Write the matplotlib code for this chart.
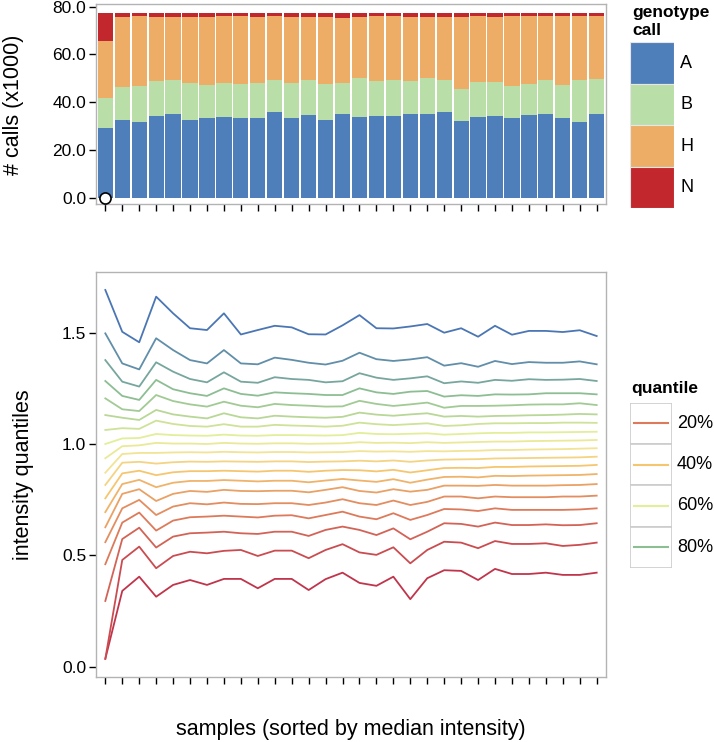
import numpy as np
import matplotlib
matplotlib.use("Agg")
import matplotlib.pyplot as plt
from matplotlib.colors import LinearSegmentedColormap
from matplotlib.patches import Rectangle
from matplotlib.lines import Line2D

plt.rcParams['font.family'] = ['Liberation Sans', 'DejaVu Sans']

# ---------------- data ----------------
genotypes = ["A", "B", "H", "N"]
geno_colors = ["#4F7FBA", "#B9DEA7", "#EDAD66", "#C1272D"]

calls_A = [29.3, 32.5, 31.6, 34.2, 35.0, 32.7, 33.5, 33.8, 33.2, 33.5, 35.9, 33.4, 34.8, 32.7, 35.0,
           33.9, 34.3, 34.3, 35.2, 34.9, 35.8, 32.3, 33.9, 34.2, 33.5, 34.5, 35.2, 33.2, 31.7, 35.2]
calls_B = [12.5, 13.9, 15.3, 14.7, 14.4, 15.5, 13.7, 14.2, 14.3, 14.4, 13.3, 14.8, 14.5, 15.0, 13.0,
           16.1, 14.6, 15.0, 13.5, 15.4, 13.5, 13.2, 14.7, 14.3, 13.3, 13.1, 14.0, 14.1, 17.7, 14.5]
calls_H = [24.0, 29.4, 29.2, 26.7, 26.4, 27.6, 28.4, 28.1, 28.6, 27.7, 26.9, 27.6, 26.5, 28.1, 27.4,
           25.8, 27.2, 26.8, 26.9, 25.5, 26.5, 30.1, 27.5, 27.1, 29.4, 28.6, 27.0, 28.8, 26.7, 26.5]
calls_N = [11.7, 1.7, 1.4, 1.9, 1.7, 1.7, 1.9, 1.4, 1.4, 1.9, 1.4, 1.7, 1.7, 1.7, 2.1,
           1.7, 1.4, 1.4, 1.9, 1.7, 1.7, 1.9, 1.4, 1.9, 1.3, 1.3, 1.3, 1.4, 1.4, 1.3]

quantile_levels = [0.05, 0.10, 0.15, 0.20, 0.25, 0.30, 0.35, 0.40, 0.45, 0.50,
                   0.55, 0.60, 0.65, 0.70, 0.75, 0.80, 0.85, 0.90, 0.95]

q05 = [0.035, 0.340, 0.404, 0.314, 0.367, 0.389, 0.367, 0.394, 0.394, 0.352, 0.394, 0.394, 0.344, 0.393, 0.422,
       0.376, 0.363, 0.404, 0.303, 0.397, 0.433, 0.430, 0.389, 0.439, 0.416, 0.416, 0.422, 0.412, 0.412, 0.422]
q10 = [0.035, 0.479, 0.539, 0.442, 0.497, 0.516, 0.509, 0.520, 0.524, 0.497, 0.521, 0.521, 0.487, 0.524, 0.550,
       0.513, 0.502, 0.536, 0.464, 0.524, 0.561, 0.557, 0.532, 0.564, 0.551, 0.551, 0.554, 0.542, 0.547, 0.557]
q15 = [0.295, 0.573, 0.624, 0.535, 0.584, 0.599, 0.602, 0.606, 0.599, 0.596, 0.606, 0.606, 0.587, 0.614, 0.629,
       0.614, 0.591, 0.621, 0.572, 0.606, 0.644, 0.641, 0.629, 0.647, 0.636, 0.636, 0.639, 0.635, 0.636, 0.644]
q20 = [0.460, 0.647, 0.692, 0.611, 0.656, 0.671, 0.674, 0.678, 0.674, 0.670, 0.678, 0.680, 0.666, 0.681, 0.696,
       0.674, 0.662, 0.689, 0.659, 0.681, 0.708, 0.706, 0.699, 0.711, 0.704, 0.704, 0.704, 0.704, 0.706, 0.711]
q25 = [0.559, 0.711, 0.749, 0.681, 0.719, 0.734, 0.729, 0.737, 0.731, 0.730, 0.734, 0.734, 0.726, 0.737, 0.752,
       0.734, 0.726, 0.746, 0.726, 0.740, 0.764, 0.764, 0.756, 0.764, 0.761, 0.761, 0.761, 0.764, 0.764, 0.768]
q30 = [0.626, 0.776, 0.797, 0.744, 0.776, 0.789, 0.785, 0.794, 0.789, 0.788, 0.790, 0.790, 0.783, 0.794, 0.806,
       0.789, 0.782, 0.797, 0.786, 0.794, 0.813, 0.813, 0.812, 0.816, 0.813, 0.813, 0.813, 0.815, 0.816, 0.820]
q35 = [0.694, 0.820, 0.839, 0.806, 0.826, 0.834, 0.834, 0.838, 0.835, 0.832, 0.835, 0.835, 0.828, 0.836, 0.843,
       0.836, 0.830, 0.842, 0.826, 0.840, 0.852, 0.853, 0.850, 0.857, 0.856, 0.858, 0.859, 0.860, 0.861, 0.865]
q40 = [0.756, 0.868, 0.880, 0.860, 0.873, 0.878, 0.878, 0.880, 0.878, 0.876, 0.880, 0.880, 0.875, 0.880, 0.883,
       0.882, 0.877, 0.884, 0.872, 0.882, 0.892, 0.893, 0.892, 0.897, 0.897, 0.899, 0.900, 0.901, 0.902, 0.906]
q45 = [0.816, 0.916, 0.920, 0.912, 0.918, 0.921, 0.920, 0.922, 0.921, 0.920, 0.922, 0.922, 0.919, 0.921, 0.922,
       0.925, 0.922, 0.926, 0.920, 0.926, 0.930, 0.931, 0.932, 0.935, 0.936, 0.937, 0.938, 0.939, 0.940, 0.943]
q50 = [0.871, 0.955, 0.960, 0.960, 0.962, 0.963, 0.962, 0.965, 0.963, 0.962, 0.964, 0.964, 0.962, 0.963, 0.964,
       0.968, 0.966, 0.967, 0.965, 0.968, 0.967, 0.969, 0.970, 0.973, 0.973, 0.975, 0.976, 0.977, 0.979, 0.981]
q55 = [0.936, 0.990, 0.994, 1.005, 1.002, 1.002, 1.000, 1.005, 1.002, 1.001, 1.003, 1.003, 1.001, 1.002, 1.003,
       1.008, 1.005, 1.006, 1.004, 1.008, 1.005, 1.007, 1.009, 1.011, 1.011, 1.013, 1.014, 1.015, 1.016, 1.018]
q60 = [1.000, 1.025, 1.027, 1.045, 1.040, 1.038, 1.037, 1.042, 1.038, 1.037, 1.040, 1.040, 1.039, 1.038, 1.040,
       1.050, 1.045, 1.044, 1.046, 1.048, 1.042, 1.045, 1.048, 1.050, 1.050, 1.052, 1.052, 1.053, 1.054, 1.055]
q65 = [1.063, 1.071, 1.068, 1.105, 1.090, 1.081, 1.078, 1.089, 1.078, 1.078, 1.086, 1.083, 1.081, 1.078, 1.082,
       1.096, 1.089, 1.085, 1.089, 1.093, 1.081, 1.084, 1.090, 1.093, 1.093, 1.094, 1.094, 1.096, 1.096, 1.095]
q70 = [1.130, 1.118, 1.108, 1.153, 1.133, 1.123, 1.115, 1.138, 1.120, 1.115, 1.127, 1.123, 1.120, 1.118, 1.122,
       1.141, 1.132, 1.127, 1.133, 1.138, 1.123, 1.126, 1.123, 1.126, 1.127, 1.129, 1.130, 1.132, 1.135, 1.133]
q75 = [1.205, 1.156, 1.148, 1.220, 1.193, 1.178, 1.168, 1.190, 1.172, 1.165, 1.180, 1.175, 1.172, 1.168, 1.169,
       1.194, 1.180, 1.171, 1.178, 1.186, 1.163, 1.171, 1.171, 1.172, 1.174, 1.177, 1.178, 1.178, 1.183, 1.175]
q80 = [1.283, 1.216, 1.198, 1.288, 1.246, 1.228, 1.216, 1.250, 1.225, 1.217, 1.232, 1.228, 1.225, 1.220, 1.220,
       1.250, 1.232, 1.225, 1.235, 1.238, 1.213, 1.219, 1.216, 1.223, 1.222, 1.223, 1.228, 1.228, 1.228, 1.223]
q85 = [1.377, 1.280, 1.258, 1.367, 1.325, 1.292, 1.277, 1.322, 1.280, 1.275, 1.300, 1.292, 1.288, 1.277, 1.282,
       1.318, 1.298, 1.288, 1.295, 1.304, 1.273, 1.281, 1.275, 1.288, 1.284, 1.291, 1.288, 1.289, 1.292, 1.283]
q90 = [1.497, 1.362, 1.335, 1.475, 1.422, 1.377, 1.362, 1.422, 1.362, 1.358, 1.388, 1.378, 1.365, 1.357, 1.374,
       1.410, 1.381, 1.373, 1.380, 1.390, 1.352, 1.363, 1.347, 1.373, 1.359, 1.368, 1.365, 1.365, 1.371, 1.358]
q95 = [1.692, 1.504, 1.457, 1.662, 1.587, 1.520, 1.512, 1.587, 1.492, 1.512, 1.531, 1.524, 1.493, 1.492, 1.533,
       1.579, 1.520, 1.519, 1.528, 1.539, 1.500, 1.520, 1.482, 1.531, 1.491, 1.508, 1.508, 1.503, 1.511, 1.485]

quantile_series = [q05, q10, q15, q20, q25, q30, q35, q40, q45, q50,
                   q55, q60, q65, q70, q75, q80, q85, q90, q95]

legend_quantiles = [0.20, 0.40, 0.60, 0.80]
legend_labels = ["20%", "40%", "60%", "80%"]

calls_ticks = [0, 20, 40, 60, 80]
int_ticks = [0.0, 0.5, 1.0, 1.5]

# ---------------- layout helpers ----------------
W, H = 714, 742
fig = plt.figure(figsize=(W / 100, H / 100), dpi=100)


def box(x0, y0, x1, y1):
    return [x0 / W, 1 - y1 / H, (x1 - x0) / W, (y1 - y0) / H]


border = "#B3B3B3"
tick_fs = 12.5
title_fs = 15.5

cmap = LinearSegmentedColormap.from_list(
    "q", [(0.0, "#C0354B"), (0.167, "#DD7B5B"), (0.389, "#F6C66F"),
          (0.5, "#F2E395"), (0.611, "#E3EE9A"), (0.833, "#8EBF93"), (1.0, "#4B76B4")])


def qcol(q):
    return cmap((q - 0.05) / 0.90)


def style(ax):
    for s in ax.spines.values():
        s.set_color(border)
        s.set_linewidth(1.0)
    ax.tick_params(direction="out", length=5, width=1.0, color="black",
                   labelsize=tick_fs, labelcolor="black", pad=2)


n = len(calls_A)
x = np.arange(n)

# ---------------- top panel ----------------
ax1 = fig.add_axes(box(96, 4, 606, 204))
bottom = np.zeros(n)
for vals, col in zip([calls_A, calls_B, calls_H, calls_N], geno_colors):
    ax1.bar(x, vals, bottom=bottom, width=0.9, color=col, linewidth=0)
    bottom = bottom + np.array(vals)
ax1.plot([0], [0], marker="o", markersize=8, markerfacecolor="white",
         markeredgecolor="black", markeredgewidth=1.2, linestyle="none",
         clip_on=False, zorder=5)
ax1.set_xlim(-0.55, n - 0.45)
ax1.set_ylim(-2.6, 81.1)
ax1.set_yticks(calls_ticks)
ax1.set_yticklabels([f"{v:.1f}" for v in calls_ticks])
ax1.set_xticks(x)
ax1.set_xticklabels([])
style(ax1)

# ---------------- bottom panel ----------------
ax2 = fig.add_axes(box(96, 271.7, 606, 677.3))
for q, series in zip(quantile_levels, quantile_series):
    ax2.plot(x, series, color=qcol(q), linewidth=1.3)
ax2.set_xlim(-0.55, n - 0.45)
ax2.set_ylim(-0.048, 1.774)
ax2.set_yticks(int_ticks)
ax2.set_yticklabels([f"{v:.1f}" for v in int_ticks])
ax2.set_xticks(x)
ax2.set_xticklabels([])
style(ax2)

# ---------------- axis titles ----------------
fig.text(14 / W, 1 - 105 / H, "# calls (x1000)", rotation=90, ha="center", va="center", fontsize=title_fs)
fig.text(24 / W, 1 - 475 / H, "intensity quantiles", rotation=90, ha="center", va="center", fontsize=title_fs)
fig.text(351 / W, 1 - 729 / H, "samples (sorted by median intensity)", ha="center", va="center", fontsize=title_fs)

# ---------------- genotype legend ----------------
fig.text(632 / W, 1 - 17 / H, "genotype", ha="left", va="baseline", fontsize=12.5, fontweight="bold")
fig.text(632 / W, 1 - 35 / H, "call", ha="left", va="baseline", fontsize=12.5, fontweight="bold")
lg1 = fig.add_axes(box(630, 42.3, 674, 208.3))
lg1.set_axis_off()
lg1.set_xlim(0, 1)
lg1.set_ylim(len(genotypes), 0)
for i, (g, c) in enumerate(zip(genotypes, geno_colors)):
    lg1.add_patch(Rectangle((0, i), 1, 1, facecolor=c, edgecolor="#E6E6E6", linewidth=0.8))
    fig.text(680 / W, 1 - (42.3 + 41.5 * (i + 0.5)) / H, g, ha="left", va="center", fontsize=13)

# ---------------- quantile legend ----------------
fig.text(631 / W, 1 - 392.5 / H, "quantile", ha="left", va="baseline", fontsize=12.5, fontweight="bold")
lg2 = fig.add_axes(box(630, 402.7, 672, 568))
lg2.set_axis_off()
lg2.set_xlim(0, 1)
lg2.set_ylim(len(legend_quantiles), 0)
for i, (q, lab) in enumerate(zip(legend_quantiles, legend_labels)):
    lg2.add_patch(Rectangle((0, i), 1, 1, facecolor="white", edgecolor="#CCCCCC", linewidth=1.2))
    lg2.add_line(Line2D([0.1, 0.9], [i + 0.5, i + 0.5], color=qcol(q), linewidth=1.5))
    fig.text(677 / W, 1 - (402.7 + 41.3 * (i + 0.5)) / H, lab, ha="left", va="center", fontsize=13)

fig.savefig("out.png", dpi=100)
